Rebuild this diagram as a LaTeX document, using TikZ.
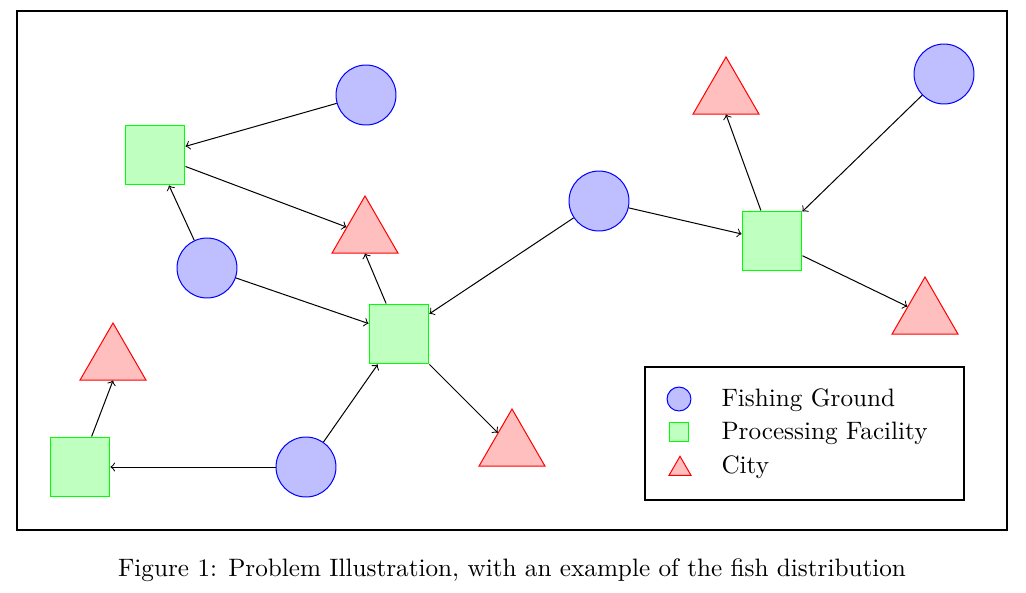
\documentclass[tikz,border=0pt]{standalone}
\usetikzlibrary{shapes.geometric}
\begin{document}
\begin{tikzpicture}[x=0.397pt,y=-0.397pt,
  ground/.style={circle,draw=blue,fill=blue!25,inner sep=0pt,minimum size=23.8pt},
  facility/.style={rectangle,draw=green,fill=green!25,inner sep=0pt,minimum size=23.8pt},
  city/.style={regular polygon,regular polygon sides=3,draw=red,fill=red!25,inner sep=0pt,minimum size=30.2pt},
  lground/.style={circle,draw=blue,fill=blue!25,inner sep=0pt,minimum size=9.5pt},
  lfacility/.style={rectangle,draw=green,fill=green!25,inner sep=0pt,minimum size=7.9pt},
  lcity/.style={regular polygon,regular polygon sides=3,draw=red,fill=red!25,inner sep=0pt,minimum size=10.1pt},
  flow/.style={->},
  ltext/.style={anchor=west,inner sep=0pt}]
\useasboundingbox (0,0) rectangle (1026,592);
\node[draw,thick,minimum width=393pt,minimum height=206pt,inner sep=0pt] (frame) at (512,270.5) {};
% fishing grounds
\node[ground] (F1) at (366,95) {};
\node[ground] (F2) at (207,268) {};
\node[ground] (F3) at (599,201) {};
\node[ground] (F4) at (306,467) {};
\node[ground] (F5) at (944,74) {};
% facilities
\node[facility] (P1) at (155,155) {};
\node[facility] (P2) at (399,334) {};
\node[facility] (P3) at (772,241) {};
\node[facility] (P4) at (80,467) {};
% cities
\node[city] (C1) at (365,234) {};
\node[city] (C2) at (726,95) {};
\node[city] (C3) at (113,361) {};
\node[city] (C4) at (512,447) {};
\node[city] (C5) at (925,315) {};
% flows
\draw[flow] (F1) -- (P1);
\draw[flow] (P1) -- (C1);
\draw[flow] (F2) -- (P1);
\draw[flow] (F2) -- (P2);
\draw[flow] (P2) -- (C1.south);
\draw[flow] (F3) -- (P2);
\draw[flow] (F3) -- (P3);
\draw[flow] (P3) -- (C2.south);
\draw[flow] (F5) -- (P3);
\draw[flow] (P3) -- (C5);
\draw[flow] (P2) -- (C4);
\draw[flow] (F4) -- (P2);
\draw[flow] (F4) -- (P4);
\draw[flow] (P4) -- (C3.south);
% legend
\node[draw,thick,minimum width=126.6pt,minimum height=52.8pt,inner sep=0pt] (legend) at (804.5,433.5) {};
\node[lground] (LG) at (679,399) {};
\node[lfacility] (LF) at (679,432) {};
\node[lcity] (LC) at (680,469) {};
\node[ltext] (TG) at (721,400) {Fishing Ground};
\node[ltext] (TF) at (721,433) {Processing Facility};
\node[ltext] (TC) at (721,467) {City};
% caption
\node (cap) at (512,570) {Figure 1: Problem Illustration, with an example of the fish distribution};
\end{tikzpicture}
\end{document}
